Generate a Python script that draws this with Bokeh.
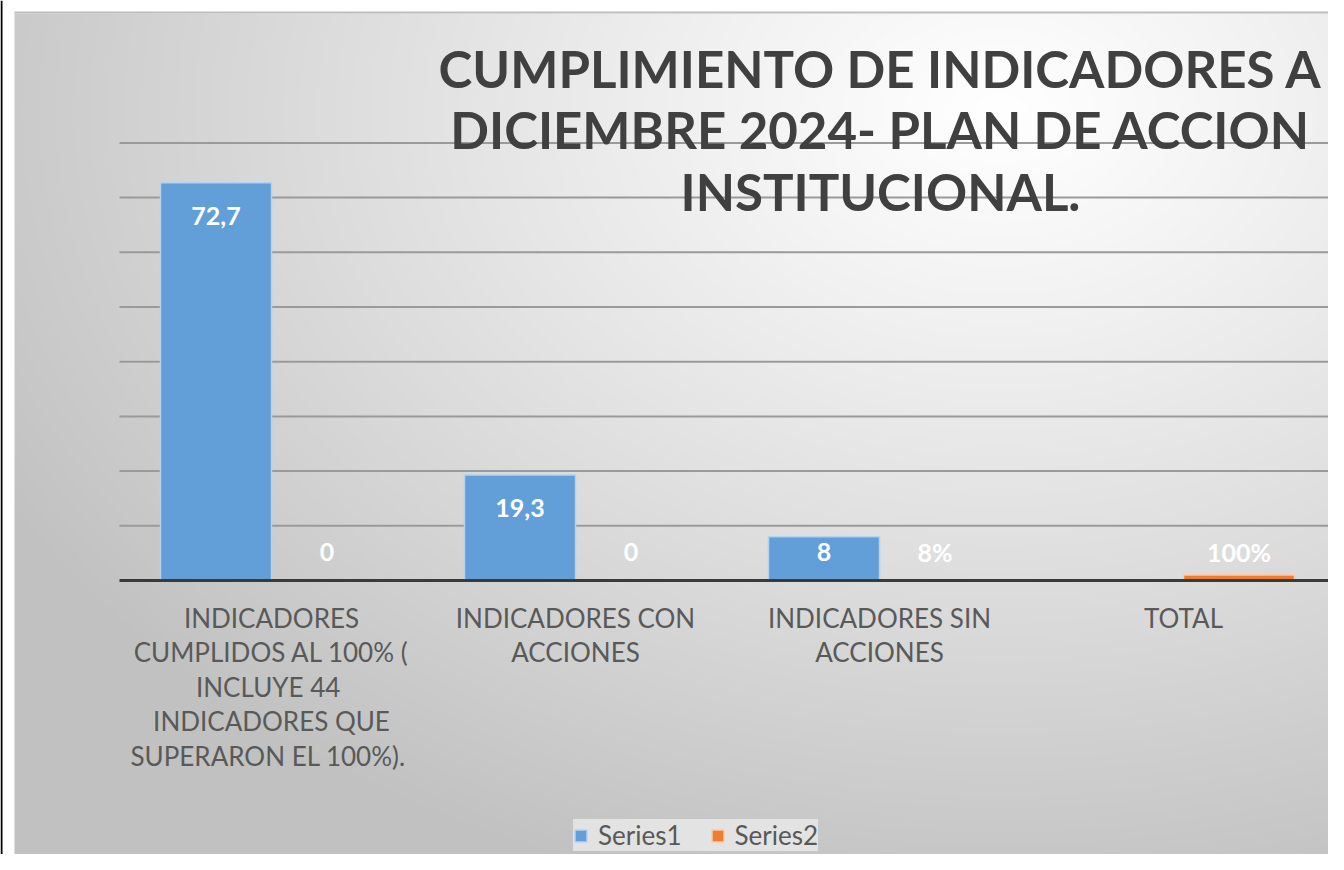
import numpy as np
from bokeh.plotting import figure
from bokeh.models import ColumnDataSource, FixedTicker, Label, Legend, LegendItem, Span
from bokeh.transform import dodge
from bokeh.core.properties import value
from bokeh.embed import file_html
from bokeh.resources import INLINE

# ---------------- data ----------------
categories = [
    "INDICADORES\nCUMPLIDOS AL 100% (\nINCLUYE  44\nINDICADORES QUE\nSUPERARON EL  100%).",
    "INDICADORES CON\nACCIONES",
    "INDICADORES SIN\nACCIONES",
    "TOTAL",
]
series1 = [72.7, 19.3, 8.0, np.nan]
series2 = [0.0, 0.0, 0.08, 1.0]
series_names = ["Series1", "Series2"]
title_lines = ["CUMPLIMIENTO DE INDICADORES A", "DICIEMBRE 2024- PLAN DE ACCION", "INSTITUCIONAL."]
grid_values = [10, 20, 30, 40, 50, 60, 70, 80]

# ---------------- style / layout ----------------
FONT = "Lato"
BLUE, BLUE_EDGE = "#629fd8", "#b4d2ee"
ORANGE, ORANGE_EDGE = "#ed7d31", "#f8cbad"

W, H = 1328, 854
PX_PER_CAT = 304.0
PX_PER_UNIT = 5.47
CAT0_SX = 271          # first category centre (px from left)
AXIS_SY = 580          # value axis zero (px from top)
PANEL_L, PANEL_T = 14, 13


def dx(px):
    return (px - CAT0_SX) / PX_PER_CAT


def dy(py):
    return (AXIS_SY - py) / PX_PER_UNIT


x_start, x_end = dx(0), dx(W)
y_start, y_end = dy(H), dy(0)

p = figure(width=W, height=H, output_backend="svg", toolbar_location=None,
           x_range=(x_start, x_end), y_range=(y_start, y_end),
           min_border=0, border_fill_color="white", background_fill_color="white",
           outline_line_color=None)
p.yaxis.visible = False
p.xgrid.visible = False
p.ygrid.visible = False

# ---- gradient background panel (drawn under everything) ----
gw, gh = 660, 422
sx = np.linspace(PANEL_L, W, gw)
sy = np.linspace(H, PANEL_T, gh)
X, Y = np.meshgrid(sx, sy)
d = np.sqrt(((X - 1000) / 1150) ** 2 + ((Y - 110) / 820) ** 2)
drop = 62 * np.clip(d, 0, 1) ** 1.1
g = np.clip(255 - drop, 0, 255).astype(np.uint8)
img = np.empty((gh, gw), dtype=np.uint32)
view = img.view(dtype=np.uint8).reshape((gh, gw, 4))
view[..., 0] = g
view[..., 1] = g
view[..., 2] = g
view[..., 3] = 255
bg = p.image_rgba(image=[img], x=dx(PANEL_L), y=y_start, dw=x_end - dx(PANEL_L), dh=dy(PANEL_T) - y_start)
bg.level = "image"

# panel top edge and page edge line
p.segment(x0=dx(PANEL_L), x1=x_end, y0=dy(PANEL_T - 1), y1=dy(PANEL_T - 1), line_color="#bdbdbd", line_width=2)
p.add_layout(Span(location=dx(1), dimension="height", line_color="black", line_width=2))

# ---- gridlines ----
p.segment(x0=-0.5, x1=x_end, y0=grid_values, y1=grid_values, line_color="#9a9a9a", line_width=2)

# ---- bars ----
idx = list(range(len(categories)))
BAR_W = 111 / PX_PER_CAT
OFF = BAR_W / 2


def fmt1(v):
    return f"{v:g}".replace(".", ",")


def fmt2(v):
    return "0" if v == 0 else f"{v * 100:.0f}%"


s1_idx = [i for i, v in zip(idx, series1) if not np.isnan(v)]
s1_val = [v for v in series1 if not np.isnan(v)]
src1 = ColumnDataSource(dict(x=s1_idx, top=s1_val,
                             label=[fmt1(v) for v in s1_val],
                             ly=[max(v - 6.0, 5.3) for v in s1_val]))
src2 = ColumnDataSource(dict(x=idx, top=series2,
                             label=[fmt2(v) for v in series2],
                             ly=[max(v - 6.0, 5.3) for v in series2]))

r1 = p.vbar(x=dodge("x", -OFF, range=p.x_range), top="top", bottom=0, width=BAR_W, source=src1,
            fill_color=BLUE, line_color=BLUE_EDGE, line_width=1.5)
r2 = p.vbar(x=dodge("x", OFF, range=p.x_range), top="top", bottom=0, width=BAR_W, source=src2,
            fill_color=ORANGE, line_color=ORANGE_EDGE, line_width=1.5)

for src, off in ((src1, -OFF), (src2, OFF)):
    p.text(x=dodge("x", off, range=p.x_range), y="ly", text="label", source=src,
           text_color="white", text_font=value(FONT), text_font_style="bold",
           text_font_size="25px", text_align="center", text_baseline="middle")

# ---- category axis drawn at y = 0 ----
xa = p.xaxis[0]
xa.fixed_location = 0
xa.bounds = (-0.5, x_end)
xa.ticker = FixedTicker(ticks=idx)
xa.major_label_overrides = {i: c for i, c in zip(idx, categories)}
xa.axis_line_color = "#3a3a3a"
xa.axis_line_width = 3
xa.major_tick_line_color = None
xa.minor_tick_line_color = None
xa.major_tick_out = 0
xa.major_tick_in = 0
xa.major_label_standoff = 21
xa.major_label_text_font = FONT
xa.major_label_text_font_size = "26px"
xa.major_label_text_color = "#595959"
xa.major_label_text_line_height = 1.08

# ---- title ----
title = Label(x=dx(880), y=dy(37),
              text="\n".join(title_lines), text_font=FONT, text_font_style="bold",
              text_font_size="51px", text_color="#404040", text_align="center",
              text_baseline="top", text_line_height=1.01)
p.add_layout(title)

# ---- legend ----
legend = Legend(items=[LegendItem(label=series_names[0], renderers=[r1]),
                       LegendItem(label=series_names[1], renderers=[r2])],
                orientation="horizontal", location=(573, 3),
                label_text_font=FONT, label_text_font_size="26px", label_text_color="#595959",
                glyph_width=15, glyph_height=15, label_standoff=10, spacing=28,
                padding=6, margin=0, background_fill_color="#e6e6e6", background_fill_alpha=0.9,
                border_line_color=None)
p.add_layout(legend)

open("out.html", "w").write(file_html(p, INLINE))
